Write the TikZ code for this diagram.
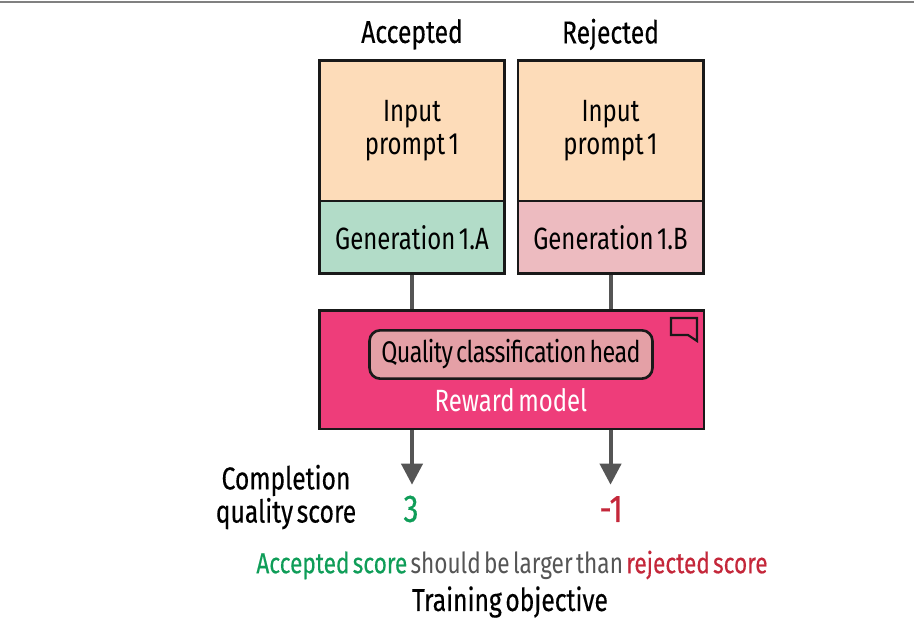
\documentclass[tikz,border=0pt]{standalone}
\usepackage{fontspec}
\setmainfont[FakeStretch=0.78,WordSpace=0.55]{Fira Sans}
\newfontfamily\labelfont[FakeStretch=0.78,WordSpace=0.55,FakeBold=0.35]{Fira Sans}
\usetikzlibrary{positioning,arrows.meta}
\definecolor{promptfill}{HTML}{FDDCB9}
\definecolor{acceptfill}{HTML}{B2DCC8}
\definecolor{rejectfill}{HTML}{EDBBC0}
\definecolor{rewardfill}{HTML}{EE3D7A}
\definecolor{headfill}{HTML}{E4A0A6}
\definecolor{linkgray}{HTML}{555555}
\definecolor{scoregreen}{HTML}{0F9D58}
\definecolor{scorered}{HTML}{C4273A}
\tikzset{
	boxed/.style={draw=black!90, line width=1.5pt, inner sep=0pt, align=center, font=\fontsize{17.5}{18.5}\selectfont},
	prompt/.style={boxed, fill=promptfill, minimum width=105.5pt, minimum height=80pt},
	generation/.style={boxed, minimum width=105.5pt, minimum height=41.5pt},
	link/.style={linkgray, line width=2.3pt},
	linkarrow/.style={link, -{Triangle[length=12pt, width=12pt]}},
	label/.style={font=\labelfont\fontsize{18}{17}\selectfont, inner sep=0pt, align=center},
}
\begin{document}
\begin{tikzpicture}[x=0.02cm, y=-0.02cm]
	\useasboundingbox (0,0) rectangle (914,627);
	\coordinate (ruleL) at (0,2);
	\coordinate (ruleR) at (914,2);
	\draw[gray, line width=1.2pt] (ruleL) -- (ruleR);

	\node[prompt, anchor=north west] (p1) at (318,59) {Input\\prompt 1};
	\node[generation, fill=acceptfill, below=-1.5pt of p1] (g1) {Generation 1.A};
	\node[prompt, right=6pt of p1] (p2) {Input\\prompt 1};
	\node[generation, fill=rejectfill, below=-1.5pt of p2] (g2) {Generation 1.B};
	\node[label, above=14pt of p1.north, anchor=center] (acc) {Accepted};
	\node[label, above=14pt of p2.north, anchor=center] (rej) {Rejected};

	\node[boxed, fill=rewardfill, anchor=north west, minimum width=219pt, minimum height=67.5pt] (reward) at (318,309) {};
	\node[boxed, fill=headfill, rounded corners=6pt, anchor=north, minimum width=161pt, minimum height=27.5pt, font=\addfontfeatures{LetterSpace=-2}\fontsize{17}{18}\selectfont] (head) at (511,329) {Quality classification head};
	\node[boxed, draw=none, white, below=11.5pt of head.south, anchor=center] (rm) {Reward model};

	% speech bubble in the corner
	\draw[black!90, line width=1.2pt, line join=miter] (671,318) -- (697,318) -- (697,341) -- (688,335) -- (671,335) -- cycle;

	\node[label, text=scoregreen, font=\labelfont\fontsize{22}{22}\selectfont] (s1) at (411,509) {3};
	\node[label, text=scorered, font=\labelfont\fontsize{22}{22}\selectfont] (s2) at (611,509) {-1};
	\node[label] (cq) at (286,497) {Completion\\quality score};

	\draw[link] (g1.south) -- (g1.south |- reward.north);
	\draw[link] (g2.south) -- (g2.south |- reward.north);
	\coordinate[below=31pt of reward.south -| g1.south] (t1);
	\coordinate[below=31pt of reward.south -| g2.south] (t2);
	\draw[linkarrow] (g1.south |- reward.south) -- (t1);
	\draw[linkarrow] (g2.south |- reward.south) -- (t2);

	\node[label, font=\fontsize{16.5}{17}\selectfont] (goal) at (512,565) {\textcolor{scoregreen}{\labelfont Accepted score} \textcolor{linkgray}{should be larger than} \textcolor{scorered}{\labelfont rejected score}};
	\node[label] (train) at (510,602) {Training objective};
\end{tikzpicture}
\end{document}
